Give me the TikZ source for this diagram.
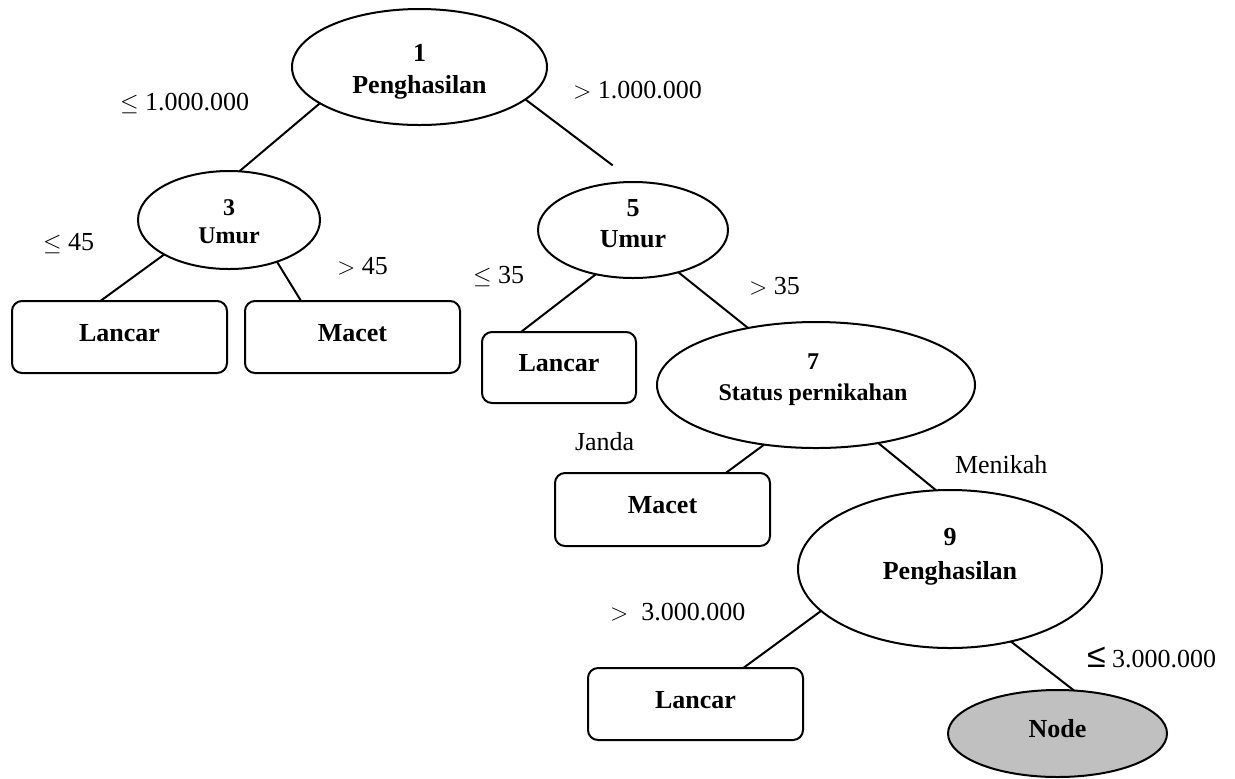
\documentclass[tikz,border=0pt]{standalone}
\usepackage{fontspec}
\setmainfont{Liberation Serif}
\newfontfamily\symsans{Liberation Sans}
\usetikzlibrary{shapes.geometric}
\definecolor{leafgray}{RGB}{192,192,192}

\begin{document}
\begin{tikzpicture}[x=0.5pt,y=0.5pt,
  every node/.style={inner sep=0pt, outer sep=0pt},
  split/.style={draw, line width=1pt, ellipse},
  leafbox/.style={draw, line width=1pt, rectangle, rounded corners=5pt,
    font=\fontsize{13}{15}\selectfont\bfseries, text height=9pt, text depth=5pt},
  leafoval/.style={draw, line width=1pt, ellipse, fill=leafgray,
    font=\fontsize{13}{15}\selectfont\bfseries, text height=9pt, text depth=5pt},
  bigtext/.style={align=center, font=\fontsize{13}{15.8}\selectfont\bfseries},
  midtext/.style={align=center, font=\fontsize{12}{14.6}\selectfont\bfseries},
  edge/.style={draw, line width=1pt},
  cond/.style={anchor=west, font=\fontsize{13}{15}\selectfont}
]
\useasboundingbox (0,0) rectangle (1235,-778);

% decision nodes
\node[split, minimum width=127.5pt, minimum height=58pt] (n1) at (419.5,-67) {};
\node[bigtext] at ([yshift=-2.25pt]n1.center) {1\\Penghasilan};

\node[split, minimum width=91pt, minimum height=49pt] (n3) at (229,-220) {};
\node[midtext, font=\fontsize{12}{14}\selectfont\bfseries] at ([yshift=-1pt]n3.center) {3\\Umur};

\node[split, minimum width=95pt, minimum height=48pt] (n5) at (633,-230) {};
\node[bigtext, font=\fontsize{13}{15.5}\selectfont\bfseries] at ([yshift=3.25pt]n5.center) {5\\Umur};

\node[split, minimum width=159pt, minimum height=63pt] (n7) at (816,-385) {};
\node[midtext, font=\fontsize{12}{15.2}\selectfont\bfseries] at ([xshift=-1.5pt,yshift=2.65pt]n7.center) {7\\Status pernikahan};

\node[split, minimum width=152pt, minimum height=79pt] (n9) at (950,-569) {};
\node[bigtext, font=\fontsize{13}{16.8}\selectfont\bfseries] at ([yshift=6.25pt]n9.center) {9\\Penghasilan};

% leaves
\node[leafbox, minimum width=107.5pt, minimum height=36pt] (lancarA) at (119.5,-337) {Lancar};
\node[leafbox, minimum width=107.5pt, minimum height=36pt] (macetA) at (352.5,-337) {Macet};
\node[leafbox, minimum width=77pt, minimum height=35.5pt] (lancarB) at (559,-367.5) {Lancar};
\node[leafbox, minimum width=107.5pt, minimum height=36.5pt] (macetB) at (662.5,-509.5) {Macet};
\node[leafbox, minimum width=107.5pt, minimum height=36pt] (lancarC) at (695.5,-704) {Lancar};
\node[leafoval, minimum width=109.5pt, minimum height=43.5pt] (open) at (1057.5,-733.5) {Node};

% branches
\draw[edge] (n1.-160.5) -- (n3.78.7);
\draw[edge, shorten >=13.8pt] (n1.-17.7) -- (n5.88);
\draw[edge] (n3.-152.1) -- (lancarA.118.3);
\draw[edge] (n3.-41.9) -- (macetA.145.1);
\draw[edge] (n5.-130.8) -- (lancarB.137);
\draw[edge] (n5.-43.7) -- (n7.140);
\draw[edge] (n7.-131.5) -- (macetB.30.7);
\draw[edge] (n7.-43.1) -- (n9.100.8);
\draw[edge] (n9.-162.3) -- (lancarC.37.2);
\draw[edge] (n9.-50.4) -- (open.69.2);

% branch conditions
\node[cond] (c1) at (120,-103) {$\leq$ 1.000.000};
\node[cond] (c2) at (573,-90) {$>$ 1.000.000};
\node[cond] (c3) at (43,-244) {$\leq$ 45};
\node[cond] (c4) at (337,-266) {$>$ 45};
\node[cond] (c5) at (473,-277) {$\leq$ 35};
\node[cond] (c6) at (749,-286) {$>$ 35};
\node[cond] (c7) at (575,-442) {Janda};
\node[cond] (c8) at (955,-465) {Menikah};
\node[cond] (c9) at (610,-612) {$>$~~3.000.000};
\node[cond] (c10) at (1087,-657) {{\symsans\fontsize{17}{17}\selectfont ≤} 3.000.000};
\end{tikzpicture}
\end{document}
